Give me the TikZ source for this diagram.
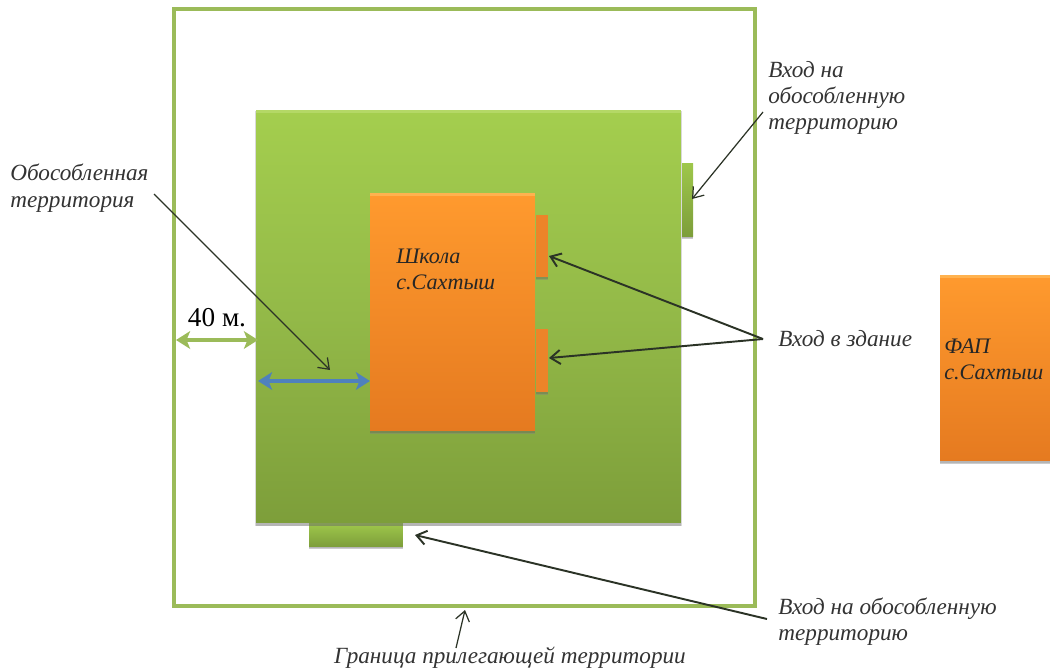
\documentclass[tikz,border=0pt]{standalone}
\usepackage{fontspec}
\setmainfont{Liberation Serif}
\usetikzlibrary{arrows.meta,shadows}
\definecolor{edgegreen}{HTML}{9BBB59}
\definecolor{yardtop}{HTML}{A4CE4E}
\definecolor{yardmid}{HTML}{93B948}
\definecolor{yardlow}{HTML}{7D9E3A}
\definecolor{yardlight}{HTML}{B4D866}
\definecolor{schooltop}{HTML}{FF9A2E}
\definecolor{schoollow}{HTML}{E57A20}
\definecolor{schoollight}{HTML}{FFB24F}
\definecolor{doororange}{HTML}{EC8429}
\definecolor{spanblue}{HTML}{4F81BD}
\definecolor{inkdark}{HTML}{2B3326}
\tikzset{
  solid box/.style={draw=none,inner sep=0pt,rectangle,
    general shadow={shadow xshift=0pt,shadow yshift=-1pt,shadow scale=1.006,opacity=.15,fill=black},
    drop shadow={shadow xshift=0pt,shadow yshift=-1.5pt,opacity=.4}},
  yard box/.style={solid box,top color=yardtop,bottom color=yardlow,middle color=yardmid,
    path picture={\fill[yardlight] (path picture bounding box.north west) rectangle ([yshift=-1.6pt]path picture bounding box.north east);}},
  gate box/.style={solid box,top color=yardtop!85!yardlow,bottom color=yardlow},
  house box/.style={solid box,top color=schooltop,bottom color=schoollow,
    path picture={\fill[schoollight] (path picture bounding box.north west) rectangle ([yshift=-1.6pt]path picture bounding box.north east);}},
  door box/.style={solid box,fill=doororange},
  note/.style={inner sep=0pt,align=left,font=\itshape\fontsize{13.2}{15}\selectfont,text=black!80},
  box note/.style={note,font=\itshape\fontsize{12.6}{15}\selectfont,text=black!85},
  pointer/.style={-{Straight Barb[length=5.5pt,width=8pt]},draw=inkdark,line width=.7pt},
  span/.style={{Stealth[length=8pt,width=10pt,inset=2pt]}-{Stealth[length=8pt,width=10pt,inset=2pt]},line width=2.3pt},
}
\begin{document}
\begin{tikzpicture}[x=0.02cm,y=-0.02cm]
  \useasboundingbox (0,0) rectangle (1050,667);
  \draw[edgegreen,line width=2.1pt] (174,9) rectangle (755,606);
  % doors of the yard sit under it
  \node[gate box,minimum width=.22cm,minimum height=1.46cm] (gate east) at (687.5,199.5) {};
  \node[gate box,minimum width=1.88cm,minimum height=.46cm] (gate south) at (356,535) {};
  \node[yard box,minimum width=8.5cm,minimum height=8.26cm] (yard) at (468.5,316.5) {};
  \node[house box,minimum width=3.3cm,minimum height=4.76cm] (school) at (452.5,312) {};
  \node[door box,minimum width=.24cm,minimum height=1.24cm] (door one) at (542,246) {};
  \node[door box,minimum width=.24cm,minimum height=1.26cm] (door two) at (542,360.5) {};
  \node[house box,minimum width=2.2cm,minimum height=3.72cm] (fap) at (995,368) {};

  \node[box note,anchor=west] (school label) at (396,269.5) {Школа\\с.Сахтыш};
  \node[box note,anchor=west] (fap label) at (944,359.5) {ФАП\\с.Сахтыш};
  \node[note,anchor=west] (yard label) at (10,188) {Обособленная\\территория};
  \node[note,anchor=west] (gate east label) at (768,98) {Вход на\\обособленную\\территорию};
  \node[note,anchor=west] (door label) at (778,339) {Вход в здание};
  \node[note,anchor=west] (gate south label) at (778,621.5) {Вход на обособленную\\территорию};
  \node[note,anchor=center] (edge label) at (510,658) {Граница прилегающей территории};
  \node[inner sep=0pt,font=\fontsize{15.5}{17}\selectfont] (distance label) at (217,318) {40 м.};

  \coordinate (yard from) at (154,194);
  \coordinate (yard to) at (330,370);
  \coordinate (gate east from) at (763,112);
  \coordinate (gate east to) at (692,199);
  \coordinate (door fork) at (763,339);
  \coordinate (door one to) at (549,256);
  \coordinate (door two to) at (549,358);
  \coordinate (gate south from) at (767,619);
  \coordinate (gate south to) at (415,535);
  \coordinate (edge from) at (456,648);
  \coordinate (edge to) at (465,610);
  \coordinate (outer west) at (176,340);
  \coordinate (yard west) at (258,340);
  \coordinate (span west) at (258,381);
  \coordinate (span east) at (370,381);

  \draw[span,edgegreen] (outer west) -- (yard west);
  \draw[span,spanblue] (span west) -- (span east);
  \draw[pointer] (yard from) -- (yard to);
  \draw[pointer] (gate east from) -- (gate east to);
  \draw[pointer,line width=1.1pt] (door fork) -- (door one to);
  \draw[pointer,line width=1.1pt] (door fork) -- (door two to);
  \draw[pointer,line width=1.1pt] (gate south from) -- (gate south to);
  \draw[pointer] (edge from) -- (edge to);
\end{tikzpicture}
\end{document}
